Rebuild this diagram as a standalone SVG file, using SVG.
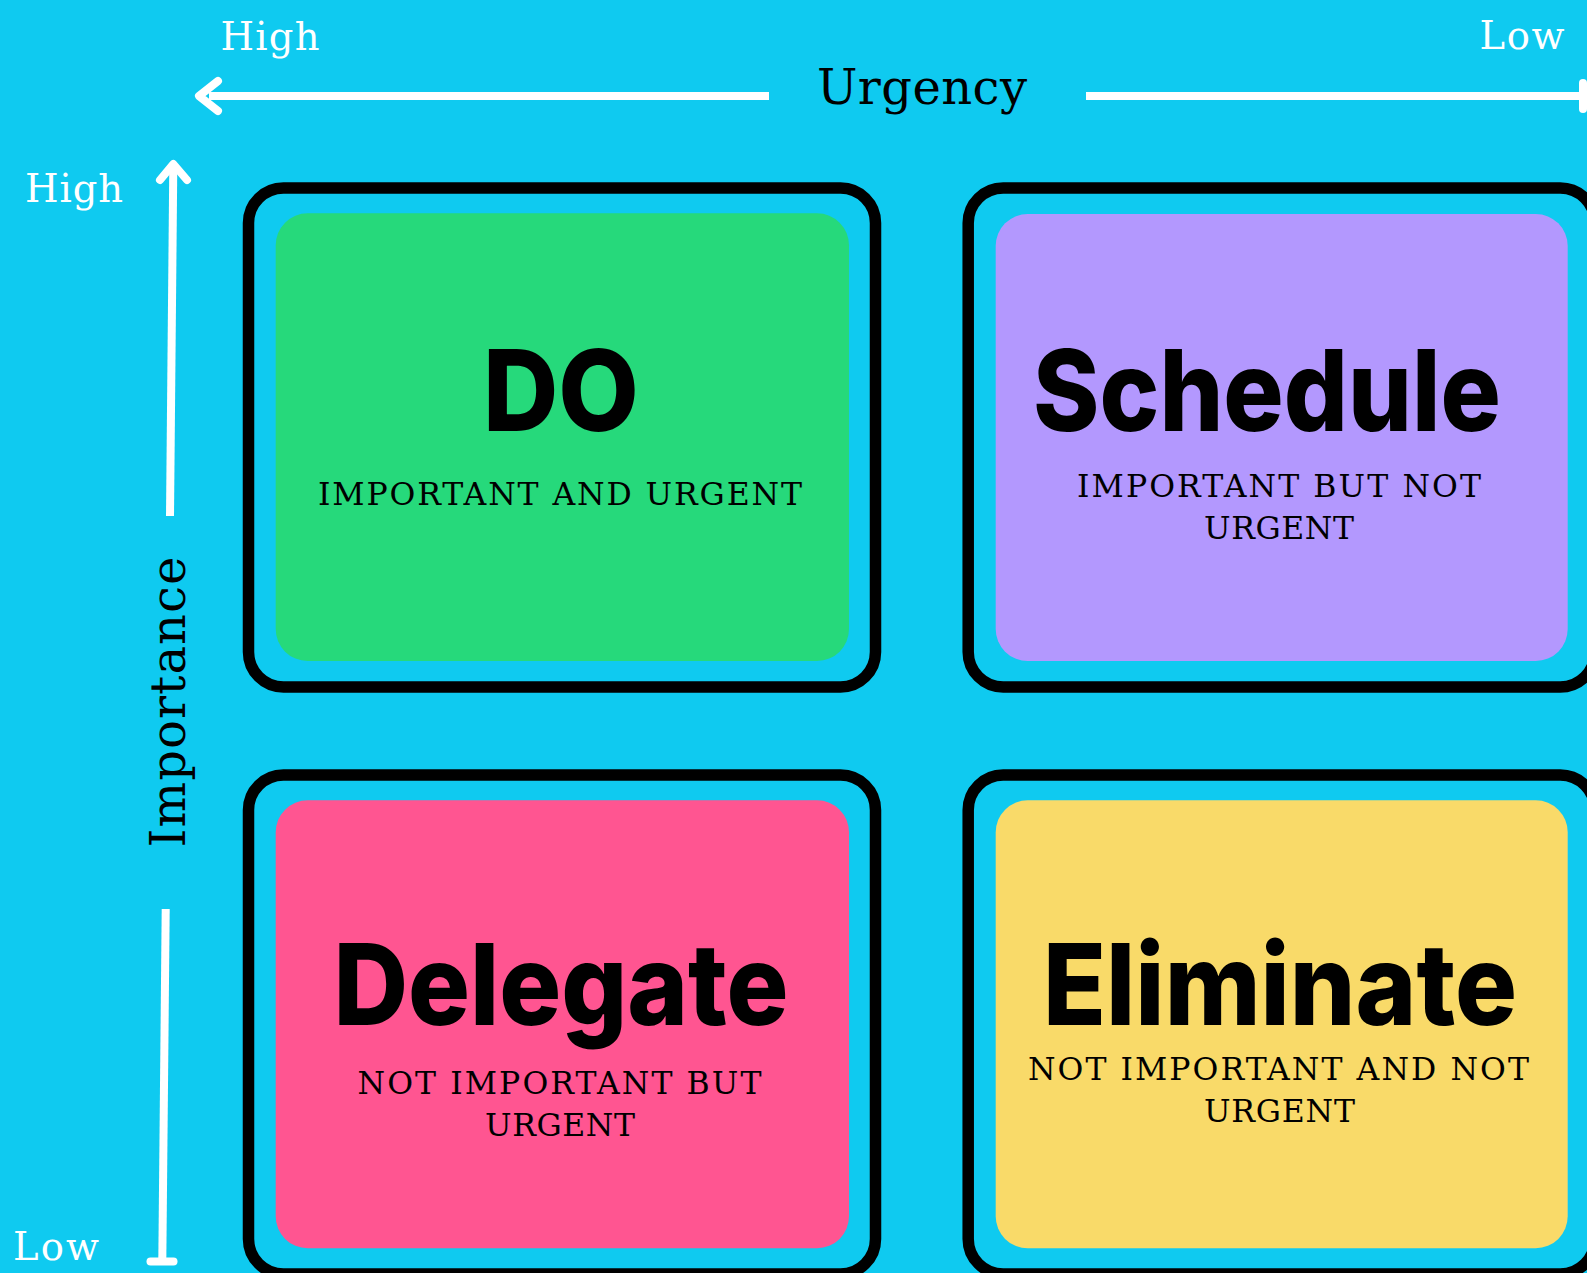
<svg xmlns="http://www.w3.org/2000/svg" width="1587" height="1273" viewBox="0 0 1587 1273">
  <style>
    .frame { fill: none; stroke: #000; stroke-width: 11.5; }
    .axis { stroke: #fff; stroke-width: 8; fill: none; }
    .cap { stroke: #fff; stroke-width: 8; fill: none; stroke-linecap: round; stroke-linejoin: round; }
    .title { font-family: "Inter", "Liberation Sans", sans-serif; font-weight: 800; font-size: 113px; fill: #000; text-anchor: middle; }
    .sub { font-family: "DejaVu Serif", "Liberation Serif", serif; font-size: 31.5px; fill: #000; text-anchor: middle; }
    .lvl { font-family: "DejaVu Serif", "Liberation Serif", serif; font-size: 38.5px; fill: #fff; text-anchor: middle; }
    .axlabel { font-family: "DejaVu Serif", "Liberation Serif", serif; font-size: 48px; fill: #000; text-anchor: middle; }
  </style>

  <rect x="0" y="0" width="1587" height="1273" fill="#0fcaf0"/>

  <!-- axis arrows -->
  <g id="connectors">
    <line class="axis" x1="209" y1="96" x2="769" y2="96"/>
    <polyline class="cap" points="218,81 199,96 218,111"/>
    <line class="axis" x1="1086" y1="96" x2="1583" y2="96"/>
    <line class="cap" x1="1583" y1="83" x2="1583" y2="109"/>

    <line class="axis" x1="170" y1="516" x2="173.3" y2="165"/>
    <polyline class="cap" points="160,180 173.3,164 187,180"/>
    <line class="axis" x1="165.7" y1="909" x2="162.3" y2="1261.5"/>
    <line class="cap" x1="150.5" y1="1261.5" x2="173.5" y2="1261.5"/>
  </g>

  <!-- axis labels -->
  <g id="urgency-axis">
    <text class="lvl" x="270" y="50" textLength="99" lengthAdjust="spacing">High</text>
    <text class="axlabel" x="922" y="104" textLength="210" lengthAdjust="spacing">Urgency</text>
    <text class="lvl" x="1522" y="49" textLength="85" lengthAdjust="spacing">Low</text>
  </g>
  <g id="importance-axis">
    <text class="lvl" x="74" y="202" textLength="98" lengthAdjust="spacing">High</text>
    <text class="axlabel" transform="translate(185,702) rotate(-90)" x="0" y="0" textLength="291" lengthAdjust="spacing">Importance</text>
    <text class="lvl" x="56" y="1260" textLength="86" lengthAdjust="spacing">Low</text>
  </g>

  <!-- quadrant: important and urgent -->
  <g id="do">
    <rect class="frame" x="248.5" y="188" width="627" height="499" rx="35"/>
    <rect x="275.7" y="213.3" width="573.3" height="447.7" rx="32" fill="#26d97b"/>
    <text class="title" x="561" y="431" textLength="156" lengthAdjust="spacingAndGlyphs">DO</text>
    <text class="sub" x="560" y="504.7" textLength="484" lengthAdjust="spacing">IMPORTANT AND URGENT</text>
  </g>

  <!-- quadrant: important but not urgent -->
  <g id="schedule">
    <rect class="frame" x="968.2" y="188" width="627" height="499" rx="35"/>
    <rect x="995.7" y="214" width="572" height="447" rx="32" fill="#b398fe"/>
    <text class="title" x="1267" y="431" textLength="468" lengthAdjust="spacingAndGlyphs">Schedule</text>
    <text class="sub" x="1279" y="497" textLength="404" lengthAdjust="spacing">IMPORTANT BUT NOT</text>
    <text class="sub" x="1279" y="538.5" textLength="150" lengthAdjust="spacing">URGENT</text>
  </g>

  <!-- quadrant: not important but urgent -->
  <g id="delegate">
    <rect class="frame" x="248.5" y="775" width="627" height="499" rx="35"/>
    <rect x="275.7" y="800.3" width="573.3" height="448" rx="32" fill="#ff5591"/>
    <text class="title" x="561" y="1025" textLength="455" lengthAdjust="spacingAndGlyphs">Delegate</text>
    <text class="sub" x="559.5" y="1094.3" textLength="404" lengthAdjust="spacing">NOT IMPORTANT BUT</text>
    <text class="sub" x="560" y="1136" textLength="150" lengthAdjust="spacing">URGENT</text>
  </g>

  <!-- quadrant: not important and not urgent -->
  <g id="eliminate">
    <rect class="frame" x="968.2" y="775" width="627" height="499" rx="35"/>
    <rect x="995.7" y="800.3" width="572" height="448" rx="32" fill="#f9da69"/>
    <text class="title" x="1280" y="1025" textLength="474" lengthAdjust="spacingAndGlyphs">Eliminate</text>
    <text class="sub" x="1278.4" y="1080" textLength="501" lengthAdjust="spacing">NOT IMPORTANT AND NOT</text>
    <text class="sub" x="1279.4" y="1122.3" textLength="151" lengthAdjust="spacing">URGENT</text>
  </g>
</svg>
